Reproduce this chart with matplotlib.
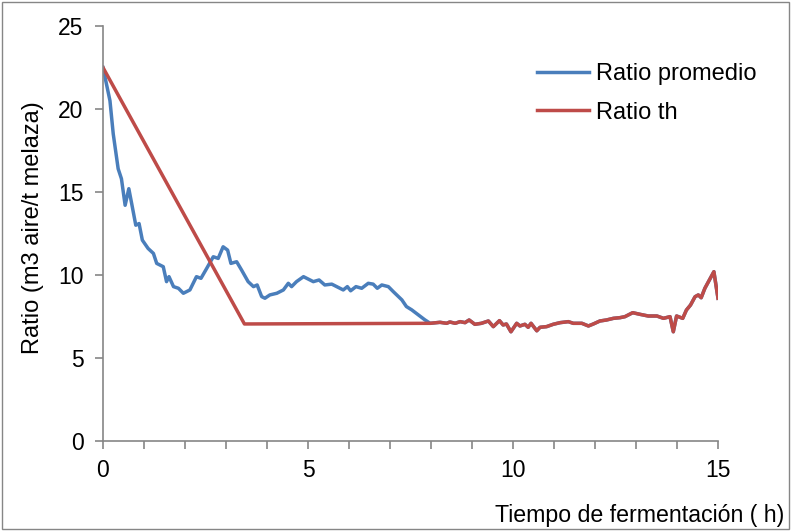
import matplotlib
matplotlib.use("Agg")
import matplotlib.pyplot as plt
from matplotlib.patches import Rectangle

plt.rcParams['font.family'] = ['Liberation Sans', 'DejaVu Sans']

# Ratio promedio, tramo inicial (h, m3 aire / t melaza)
horas_prom = [0.0, 0.17, 0.25, 0.37, 0.45, 0.54, 0.63, 0.70, 0.80, 0.88, 0.96,
              1.10, 1.23, 1.31, 1.47, 1.55, 1.61, 1.72, 1.84, 1.96, 2.12, 2.28,
              2.39, 2.53, 2.69, 2.81, 2.93, 3.04, 3.12, 3.26, 3.38, 3.54, 3.67,
              3.76, 3.87, 3.95, 4.07, 4.24, 4.40, 4.52, 4.60, 4.72, 4.89, 4.97,
              5.13, 5.27, 5.41, 5.58, 5.70, 5.86, 5.96, 6.04, 6.17, 6.31, 6.47,
              6.59, 6.69, 6.80, 6.96, 7.08, 7.29, 7.40, 7.53, 7.69, 7.85]
ratio_prom = [22.5, 20.5, 18.5, 16.4, 15.8, 14.2, 15.2, 14.3, 13.0, 13.1, 12.1,
              11.6, 11.3, 10.7, 10.5, 9.6, 9.9, 9.3, 9.2, 8.9, 9.1, 9.9,
              9.8, 10.4, 11.1, 11.0, 11.7, 11.5, 10.7, 10.8, 10.3, 9.6, 9.3,
              9.4, 8.7, 8.6, 8.8, 8.9, 9.1, 9.5, 9.3, 9.6, 9.9, 9.8,
              9.6, 9.7, 9.4, 9.45, 9.3, 9.1, 9.3, 9.05, 9.3, 9.2, 9.5,
              9.45, 9.2, 9.4, 9.3, 9.0, 8.5, 8.1, 7.9, 7.6, 7.3]

# Ratio th, tramo inicial
horas_th = [0.0, 3.45]
ratio_th = [22.5, 7.05]

# tramo comun (desde ~8 h ambas curvas coinciden)
horas_comun = [7.98, 8.22, 8.38, 8.46, 8.59, 8.71, 8.83, 8.93, 9.07, 9.23, 9.40,
               9.52, 9.67, 9.76, 9.84, 9.95, 10.09, 10.17, 10.29, 10.37, 10.44,
               10.58, 10.66, 10.82, 10.98, 11.15, 11.35, 11.47, 11.68, 11.84,
               11.96, 12.12, 12.28, 12.45, 12.61, 12.73, 12.92, 13.10, 13.30,
               13.51, 13.67, 13.83, 13.91, 13.99, 14.14, 14.23, 14.33, 14.44,
               14.52, 14.59, 14.68, 14.79, 14.90, 15.0]
ratio_comun = [7.09, 7.15, 7.09, 7.17, 7.09, 7.19, 7.13, 7.29, 7.03, 7.09, 7.23,
               6.89, 7.25, 6.99, 7.05, 6.58, 7.09, 6.93, 7.03, 6.85, 7.09,
               6.64, 6.85, 6.89, 7.03, 7.13, 7.19, 7.09, 7.09, 6.93,
               7.05, 7.23, 7.29, 7.39, 7.43, 7.49, 7.73, 7.63, 7.53,
               7.53, 7.39, 7.49, 6.58, 7.53, 7.39, 7.89, 8.19, 8.69,
               8.8, 8.63, 9.2, 9.7, 10.2, 8.6]

azul = '#4A7EBB'
rojo = '#BE4B48'
gris = '#868686'

fig = plt.figure(figsize=(7.91, 5.31), dpi=100)
ax = fig.add_axes([0.1302, 0.1695, 0.7775, 0.7815])

ax.plot(horas_prom + horas_comun, ratio_prom + ratio_comun, color=azul, lw=2.5,
        label='Ratio promedio')
ax.plot(horas_th + horas_comun, ratio_th + ratio_comun, color=rojo, lw=2.5,
        label='Ratio th')

ax.set_xlim(0, 15)
ax.set_ylim(0, 25)
ax.set_xticks([0, 5, 10, 15])
ax.set_xticks(range(0, 16), minor=True)
ax.set_yticks([0, 5, 10, 15, 20, 25])

for s in ['top', 'right']:
    ax.spines[s].set_visible(False)
for s in ['left', 'bottom']:
    ax.spines[s].set_color(gris)
    ax.spines[s].set_linewidth(1.2)

ax.tick_params(axis='both', which='both', direction='out', color=gris, width=1.2,
               labelsize=16.5)
ax.tick_params(axis='x', which='both', length=6, pad=7)
ax.tick_params(axis='y', length=6, pad=8)

fig.text(0.042, 0.571, 'Ratio (m3 aire/t melaza)', rotation=90, fontsize=17,
         ha='center', va='center')
fig.text(0.992, 0.030, 'Tiempo de fermentación ( h)', fontsize=16.7,
         ha='right', va='center')

ax.legend(loc='upper left', bbox_to_anchor=(0.679, 0.881),
          bbox_transform=fig.transFigure, frameon=False, fontsize=17,
          borderpad=0, borderaxespad=0, handlelength=2.2, handletextpad=0.3,
          labelspacing=0.7)

fig.patches.append(Rectangle((0.002, 0.003), 0.995, 0.993, transform=fig.transFigure,
                             fill=False, edgecolor=gris, lw=1))

fig.savefig('out.png', dpi=100)
